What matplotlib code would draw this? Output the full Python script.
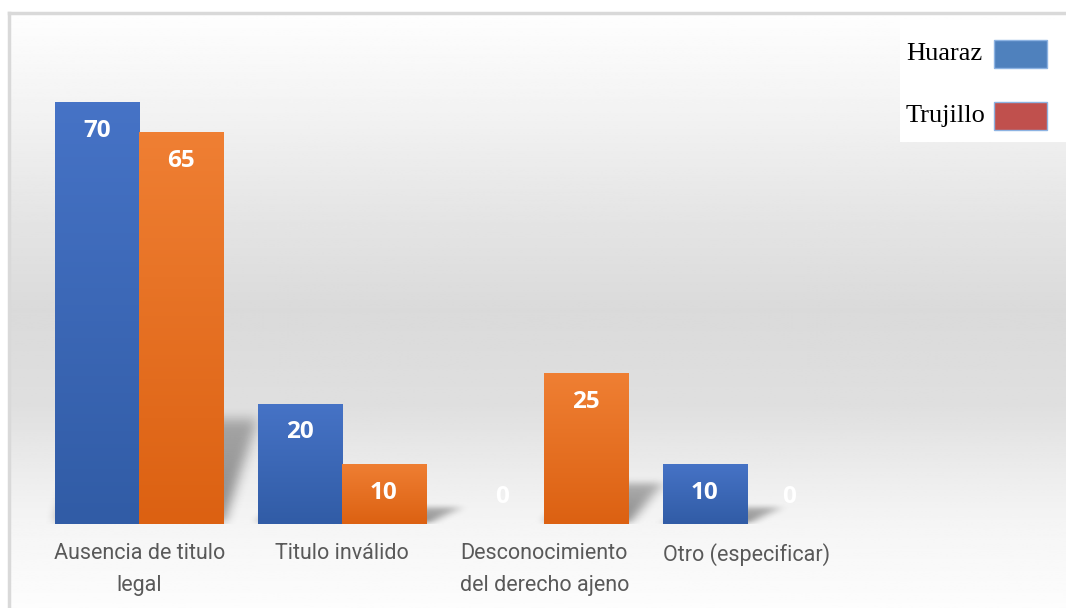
import matplotlib.pyplot as plt
import numpy as np
from matplotlib.patches import Rectangle
from matplotlib.lines import Line2D
from matplotlib.colors import to_rgb

# datos
categorias = ['Ausencia de titulo\nlegal', 'Titulo inválido',
              'Desconocimiento\ndel derecho ajeno', 'Otro (especificar)']
series = ['Huaraz', 'Trujillo']
huaraz = [70, 20, 0, 10]
trujillo = [65, 10, 25, 0]

W, H = 1066, 608
fig = plt.figure(figsize=(W / 100, H / 100), dpi=100)

# fondo con degradado blanco-gris-blanco
bg = fig.add_axes([0, 0, 1, 1], zorder=-10)
yy = np.linspace(0, 1, 300)
stops_y = [0.0, 0.15, 0.33, 0.5, 0.66, 0.77, 0.86, 1.0]
stops_v = [0.995, 0.955, 0.90, 0.855, 0.875, 0.925, 0.96, 0.99]
g = np.interp(yy, stops_y, stops_v)
bg.imshow(np.repeat(g[:, None], 2, axis=1), cmap='gray', vmin=0, vmax=1,
          aspect='auto', extent=[9 / W, 1, 0, 1 - 13 / H], origin='upper')
bg.set_xlim(0, 1)
bg.set_ylim(0, 1)
bg.axis('off')
fig.add_artist(Line2D([9 / W, 9 / W], [0, 1 - 13 / H], color='#d9d9d9', lw=2.5))
fig.add_artist(Line2D([9 / W, 1], [1 - 13 / H, 1 - 13 / H], color='#d9d9d9', lw=2.5))

ax = fig.add_axes([38 / W, 84 / H, 810 / W, 482 / H])
ax.set_facecolor('none')
x = np.arange(len(categorias))
w = 0.415


def blur(m, n, veces=3):
    k = np.ones(n) / n
    for _ in range(veces):
        m = np.apply_along_axis(lambda r: np.convolve(r, k, mode='same'), 0, m)
        m = np.apply_along_axis(lambda r: np.convolve(r, k, mode='same'), 1, m)
    return m


def sombra(x0, x1, v):
    # sombra difusa en perspectiva hacia la derecha
    sh = v * 0.27
    skew = 0.17
    ex = [x0 - 0.1, x1 + 0.45, 0, sh + 8]
    nx, ny = 160, 120
    gx = np.linspace(ex[0], ex[1], nx)
    gy = np.linspace(ex[3], ex[2], ny)
    X, Y = np.meshgrid(gx, gy)
    t = np.clip(Y / sh, 0, None)
    m = ((Y >= 0) & (Y <= sh) & (X >= x0 + skew * t) & (X <= x1 + skew * t)).astype(float)
    m = m * (1 - 0.4 * t)
    m = blur(m, 9)
    rgba = np.zeros((ny, nx, 4))
    rgba[..., 3] = m * 0.45
    ax.imshow(rgba, extent=ex, aspect='auto', origin='upper', zorder=1, interpolation='bilinear')


colores = [('#4673c6', '#315ca6'), ('#ef7f33', '#dc6112')]
for k, vals in enumerate([huaraz, trujillo]):
    pos = x - w / 2 if k == 0 else x + w / 2
    bars = ax.bar(pos, vals, width=w, color=colores[k][1], zorder=3)
    for b, v in zip(bars, vals):
        x0 = b.get_x()
        x1 = x0 + b.get_width()
        if v > 0:
            sombra(x0, x1, v)
            grad = np.linspace(0, 1, 100)[:, None, None]
            c_top = np.array(to_rgb(colores[k][0]))
            c_bot = np.array(to_rgb(colores[k][1]))
            img = c_top * (1 - grad) + c_bot * grad
            im = ax.imshow(img, extent=[x0, x1, 0, v], aspect='auto', zorder=3.5, origin='upper')
            im.set_clip_path(b)
        yl = v - 4.8 if v > 0 else 4.5
        ax.text(x0 + w / 2, yl, str(v), ha='center', va='center', color='white',
                fontsize=17.5, fontweight='bold', family=['Open Sans', 'DejaVu Sans'], zorder=5)

ax.set_xlim(-0.5, 3.5)
ax.set_ylim(0, 80)
ax.set_yticks([])
ax.set_xticks(x)
ax.set_xticklabels(categorias, color='#595959', fontsize=15.5, linespacing=1.65,
                   family=['Roboto', 'DejaVu Sans'])
ax.tick_params(axis='x', length=0, pad=14)
for sp in ax.spines.values():
    sp.set_visible(False)

# leyenda
fig.add_artist(Rectangle((900 / W, 1 - 142 / H), 166 / W, 122 / H, transform=fig.transFigure,
                         facecolor='white', edgecolor='none', zorder=6))
leg_col = ['#4f81bd', '#c0504d']
leg_y = [54, 116]
for nombre, c, yc in zip(series, leg_col, leg_y):
    fig.text(906 / W, 1 - yc / H, nombre, ha='left', va='center', fontsize=19,
             family=['Liberation Serif', 'DejaVu Serif'], color='black', zorder=7)
    fig.add_artist(Rectangle((994 / W, 1 - (yc + 14) / H), 53 / W, 28 / H,
                             transform=fig.transFigure, facecolor=c,
                             edgecolor='#8db3e2', lw=1, zorder=7))

fig.savefig('out.png', dpi=100)
